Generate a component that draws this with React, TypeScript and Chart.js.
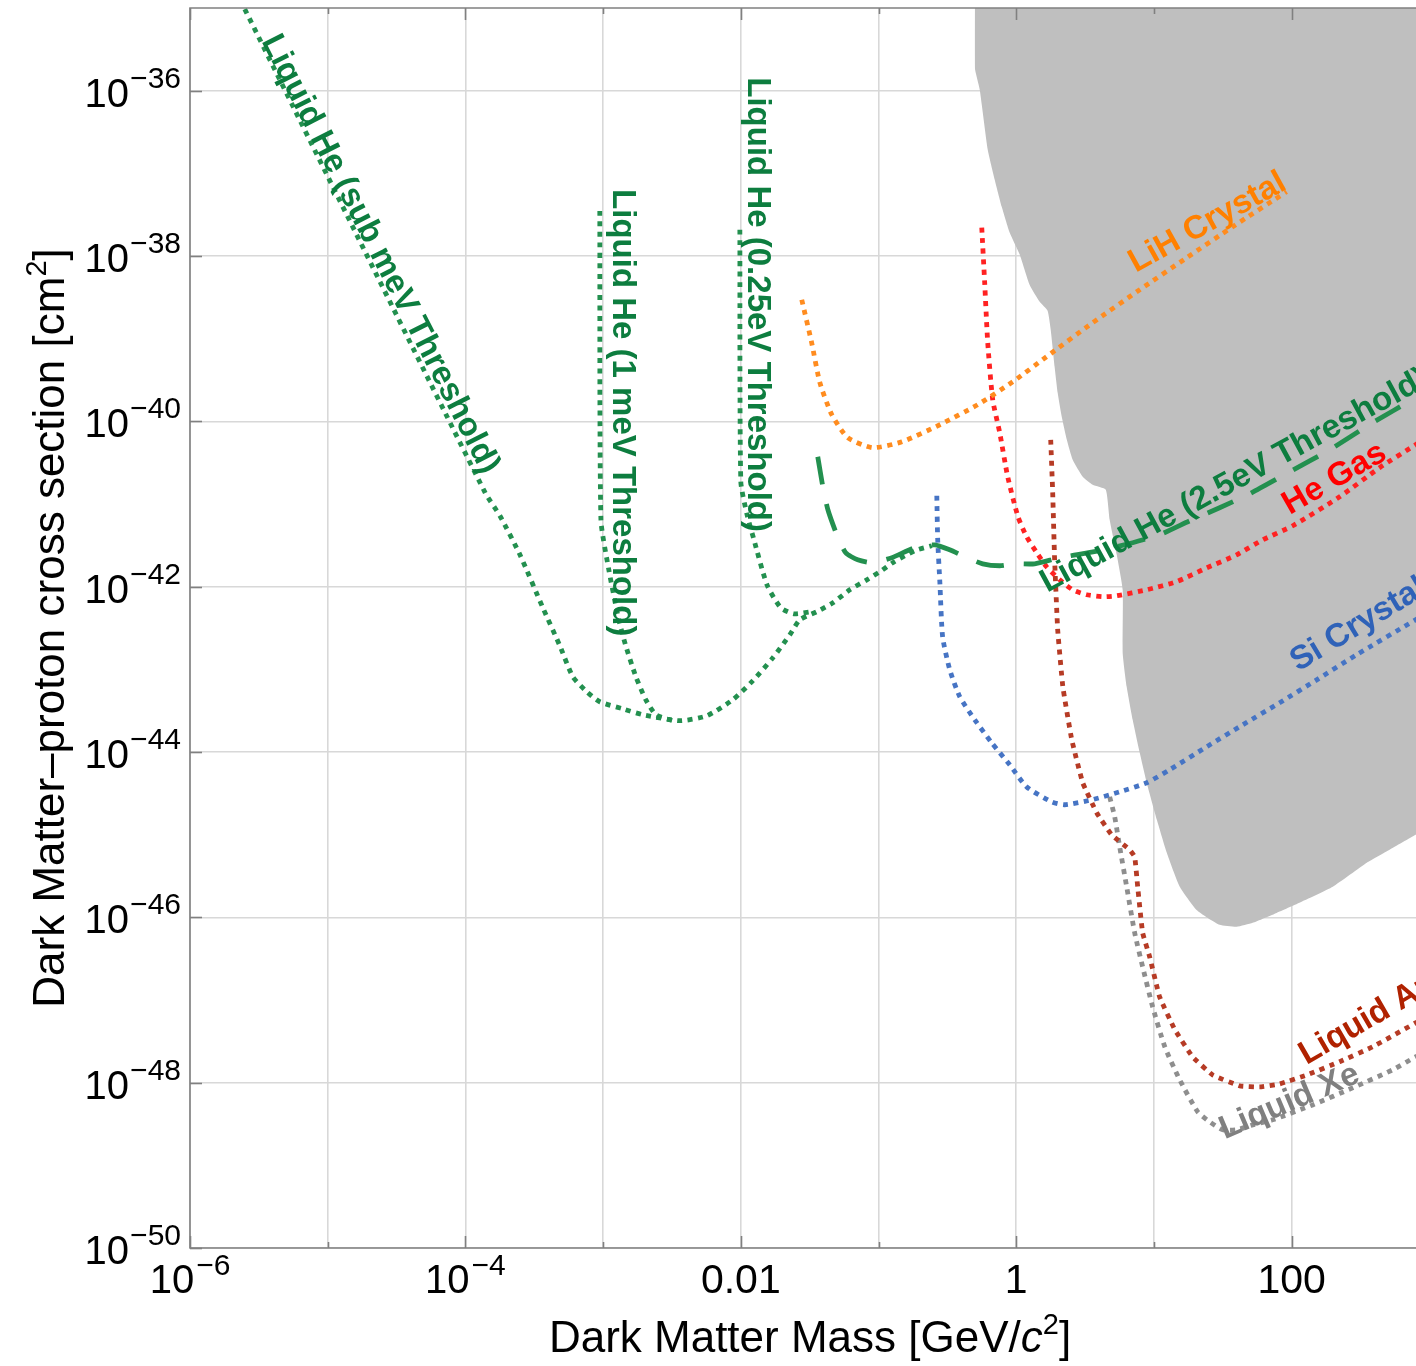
import React, { useEffect, useRef } from 'react';
import { Chart, registerables } from 'chart.js';

Chart.register(...registerables);

type Pair = [number, number];

// ---------- axis ticks ----------
const xGridValues = [1e-6, 1e-5, 1e-4, 1e-3, 1e-2, 1e-1, 1, 10, 100];
const xLabelValues = [1e-6, 1e-4, 1e-2, 1, 100];
const xLabelText: [string, string][] = [
  ['10', '\u22126'],
  ['10', '\u22124'],
  ['0.01', ''],
  ['1', ''],
  ['100', ''],
];
const yLabelValues = [1e-50, 1e-48, 1e-46, 1e-44, 1e-42, 1e-40, 1e-38, 1e-36];
const yLabelText: [string, string][] = [
  ['10', '\u221250'],
  ['10', '\u221248'],
  ['10', '\u221246'],
  ['10', '\u221244'],
  ['10', '\u221242'],
  ['10', '\u221240'],
  ['10', '\u221238'],
  ['10', '\u221236'],
];

// ---------- series (mass GeV/c^2, cross section cm^2) ----------
const liquidHeSubMeV: Pair[] = [
  [2.31e-6, 1.26e-35], [1.39e-4, 1.37e-41], [1.78e-4, 7.21e-42], [2.49e-4, 2.43e-42],
  [3.65e-4, 5.56e-43], [4.85e-4, 1.93e-43], [6.03e-4, 8.13e-44], [7.62e-4, 5.35e-44],
  [9.46e-4, 4.05e-44], [1.39e-3, 3.33e-44], [1.95e-3, 2.82e-44], [3.61e-3, 2.39e-44],
  [5.66e-3, 2.74e-44], [8.75e-3, 4.29e-44], [1.22e-2, 7.26e-44], [1.71e-2, 1.38e-43],
  [2.27e-2, 2.62e-43], [2.68e-2, 3.97e-43], [3.56e-2, 4.97e-43], [4.66e-2, 6.38e-43],
  [6.18e-2, 9.16e-43], [8.22e-2, 1.21e-42], [0.102, 1.51e-42], [0.127, 1.95e-42],
  [0.183, 2.72e-42], [0.244, 3.13e-42],
];
const liquidHe1meV: Pair[] = [
  [9.46e-4, 3.5e-38], [9.64e-4, 6.44e-42], [1.10e-3, 1.60e-42], [1.30e-3, 3.97e-43],
  [1.46e-3, 1.93e-43], [1.73e-3, 8.13e-44], [2.04e-3, 4.29e-44], [2.42e-3, 2.82e-44],
  [3.21e-3, 2.39e-44],
];
const liquidHe025eV: Pair[] = [
  [9.84e-3, 2.08e-38], [1.00e-2, 1.86e-41], [1.11e-2, 7.41e-42], [1.24e-2, 3.80e-42],
  [1.55e-2, 1.05e-42], [1.95e-2, 5.56e-43], [2.43e-2, 4.70e-43], [3.22e-2, 4.97e-43],
];
const liquidHe25eV: Pair[] = [
  [3.62e-2, 3.73e-41], [3.94e-2, 1.62e-41], [4.29e-2, 8.51e-42], [4.98e-2, 4.25e-42],
  [5.78e-2, 2.57e-42], [7.06e-2, 2.11e-42], [8.93e-2, 1.95e-42], [0.125, 2.24e-42],
  [0.183, 2.96e-42], [0.256, 3.21e-42], [0.329, 2.79e-42], [0.423, 2.30e-42],
  [0.571, 1.89e-42], [0.759, 1.79e-42], [0.975, 1.89e-42], [1.36, 1.89e-42],
  [2.07, 2.24e-42], [4.04, 2.72e-42], [7.01, 3.40e-42], [11.0, 4.25e-42],
  [18.2, 6.27e-42], [30.0, 9.02e-42], [49.5, 1.33e-41], [96.6, 2.45e-41],
  [189, 4.53e-41], [387, 9.62e-41], [794, 1.93e-40], [1656, 4.21e-40],
];
const lihCrystal: Pair[] = [
  [2.77e-2, 2.96e-39], [3.27e-2, 8.93e-40], [3.75e-2, 2.93e-40], [4.58e-2, 1.20e-40],
  [5.98e-2, 6.34e-41], [9.08e-2, 4.80e-41], [0.148, 5.66e-41], [0.279, 9.10e-41],
  [0.525, 1.59e-40], [0.944, 3.01e-40], [1.66, 6.05e-40], [3.59, 1.56e-39],
  [7.89, 3.91e-39], [17.3, 9.53e-39], [37.3, 2.26e-38], [92.0, 6.00e-38],
];
const heGas: Pair[] = [
  [0.562, 2.20e-38], [0.590, 4.75e-39], [0.621, 8.93e-40], [0.675, 1.82e-40],
  [0.759, 7.28e-41], [0.867, 2.14e-41], [1.03, 7.01e-42], [1.19, 4.02e-42],
  [1.41, 2.57e-42], [1.66, 1.74e-42], [2.07, 1.21e-42], [2.57, 9.16e-43],
  [3.25, 7.98e-43], [4.25, 7.55e-43], [5.37, 7.76e-43], [8.85, 9.16e-43],
  [14.6, 1.15e-42], [24.2, 1.69e-42], [39.9, 2.43e-42], [61.7, 3.69e-42],
  [102, 5.46e-42], [223, 1.22e-41], [435, 2.75e-41], [794, 5.21e-41], [1403, 9.89e-41],
];
const siCrystal: Pair[] = [
  [0.265, 1.26e-41], [0.269, 3.69e-42], [0.279, 1.11e-42], [0.292, 2.48e-43],
  [0.329, 9.89e-44], [0.389, 4.66e-44], [0.500, 2.45e-44], [0.664, 1.29e-44],
  [0.897, 7.00e-45], [1.19, 3.79e-45], [1.81, 2.49e-45], [2.25, 2.30e-45],
  [3.53, 2.64e-45], [5.64, 3.30e-45], [8.85, 4.24e-45], [13.0, 6.10e-45],
  [24.2, 1.16e-44], [44.1, 2.13e-44], [81.8, 3.94e-44], [152, 7.46e-44],
  [296, 1.50e-43], [794, 3.97e-43], [1403, 6.93e-43],
];
const liquidAr: Pair[] = [
  [1.78, 5.98e-41], [1.84, 1.37e-41], [1.90, 2.11e-42], [2.00, 3.01e-43],
  [2.18, 6.15e-44], [2.53, 1.41e-44], [3.04, 4.24e-45], [3.84, 1.84e-45],
  [4.93, 9.95e-46], [6.67, 6.56e-46], [7.25, 5.40e-46], [7.62, 2.34e-46],
  [8.28, 6.49e-47], [9.31, 3.33e-47], [11.0, 1.09e-47], [14.2, 4.36e-48],
  [19.1, 2.05e-48], [26.7, 1.24e-48], [42.0, 9.14e-49], [58.6, 8.89e-49],
  [81.8, 9.66e-49], [129, 1.24e-48], [223, 1.79e-48], [387, 2.71e-48],
  [794, 5.28e-48], [1403, 9.23e-48],
];
const liquidXe: Pair[] = [
  [4.77, 2.87e-45], [5.19, 1.64e-45], [5.64, 7.13e-46], [6.34, 2.34e-46],
  [7.25, 6.49e-47], [8.28, 2.52e-47], [9.79, 8.26e-48], [12.0, 2.71e-48],
  [15.4, 1.08e-48], [20.8, 4.44e-49], [25.4, 3.36e-49], [31.6, 2.69e-49],
  [39.9, 2.69e-49], [52.1, 3.08e-49], [72.8, 3.55e-49], [142, 5.38e-49],
  [277, 8.65e-49], [541, 1.43e-48], [794, 2.05e-48], [1403, 3.30e-48],
];
const excludedRegion: Pair[] = [
  [0.500, 1.3e-35], [0.500, 1.90e-36], [0.543, 1.03e-36], [0.621, 1.93e-37],
  [0.698, 8.37e-38], [0.785, 3.94e-38], [0.897, 1.91e-38], [1.06, 1.04e-38],
  [1.25, 4.50e-39], [1.48, 2.80e-39], [1.69, 2.18e-39], [1.78, 1.28e-39],
  [1.90, 4.58e-40], [2.00, 2.22e-40], [2.14, 1.14e-40], [2.33, 5.98e-41],
  [2.57, 3.43e-41], [3.04, 2.14e-41], [3.59, 1.71e-41], [4.47, 1.49e-41],
  [4.77, 6.44e-42], [5.37, 2.43e-42], [5.93, 9.16e-43], [5.93, 1.58e-43],
  [6.34, 6.15e-44], [7.01, 2.45e-44], [7.89, 9.77e-45], [9.02, 3.79e-45],
  [10.5, 1.51e-45], [12.4, 6.03e-46], [15.4, 2.34e-46], [20.4, 1.23e-46],
  [30.0, 8.11e-47], [39.9, 7.67e-47], [52.1, 8.57e-47], [77.8, 1.13e-46],
  [114, 1.50e-46], [199, 2.34e-46], [351, 4.56e-46], [514, 6.56e-46],
  [794, 9.95e-46], [1403, 1.74e-45],
];

// ---------- colours ----------
const GREEN_LINE = '#23904f';
const GREEN_TEXT = '#0d7d3f';
const ORANGE_LINE = '#ff8c1f';
const ORANGE_TEXT = '#ff8000';
const RED_LINE = '#ff2222';
const RED_TEXT = '#ff0000';
const BLUE_LINE = '#4674c4';
const BLUE_TEXT = '#2f62b8';
const BROWN_LINE = '#b63b25';
const BROWN_TEXT = '#b02200';
const GRAY_LINE = '#8e8e8e';
const GRAY_TEXT = '#808080';

// ---------- curve labels (anchor in data coords) ----------
const labelTexts = [
  'Liquid He (sub meV Threshold)',
  'Liquid He (1 meV Threshold)',
  'Liquid He (0.25eV Threshold)',
  'LiH Crystal',
  'Liquid He (2.5eV Threshold)',
  'He Gas',
  'Si Crystal',
  'Liquid Ar',
  'Liquid Xe',
];
const labelX = [2.4e-5, 1.37e-3, 1.31e-2, 24.5, 38.5, 205, 306, 339, 96.6];
const labelY = [1.05e-38, 1.27e-40, 2.58e-39, 2.53e-38, 1.91e-41, 2.02e-41, 3.46e-43, 5.6e-48, 5.86e-49];
const labelAngle = [63, 90, 90, -29, -28.5, -30, -31, -30, -23];
const labelColor = [GREEN_TEXT, GREEN_TEXT, GREEN_TEXT, ORANGE_TEXT, GREEN_TEXT, RED_TEXT, BLUE_TEXT, BROWN_TEXT, GRAY_TEXT];

const FONT_FAMILY = '"Liberation Sans", Arial, Helvetica, sans-serif';
const GRID = '#d8d8d8';
const FRAME = '#808080';

const toPoints = (arr: Pair[]) => arr.map(([x, y]) => ({ x, y }));

const DOT = [5, 5.5];
const DASH = [28, 20];

function curve(data: Pair[], color: string, dash: number[], tension = 0.2) {
  return {
    data: toPoints(data),
    showLine: true,
    borderColor: color,
    borderWidth: 4.8,
    borderDash: dash,
    borderCapStyle: 'butt' as const,
    pointRadius: 0,
    pointHoverRadius: 0,
    tension,
    fill: false,
    order: 1,
  };
}

type Part = { t: string; font: string; dy?: number };

function drawParts(ctx: CanvasRenderingContext2D, parts: Part[], x: number, y: number) {
  let total = 0;
  for (const p of parts) {
    ctx.font = p.font;
    total += ctx.measureText(p.t).width;
  }
  let cx = x - total / 2;
  ctx.textAlign = 'left';
  ctx.textBaseline = 'alphabetic';
  for (const p of parts) {
    ctx.font = p.font;
    ctx.fillText(p.t, cx, y + (p.dy || 0));
    cx += ctx.measureText(p.t).width;
  }
}

const overlayPlugin = {
  id: 'overlay',
  afterDatasetsDraw(chart: any) {
    const ctx: CanvasRenderingContext2D = chart.ctx;
    const xs = chart.scales.x;
    const ys = chart.scales.y;
    ctx.save();
    ctx.font = `bold 33px ${FONT_FAMILY}`;
    ctx.textAlign = 'center';
    ctx.textBaseline = 'middle';
    labelTexts.forEach((t, i) => {
      const px = xs.getPixelForValue(labelX[i]);
      const py = ys.getPixelForValue(labelY[i]);
      ctx.save();
      ctx.translate(px, py);
      ctx.rotate((labelAngle[i] * Math.PI) / 180);
      ctx.fillStyle = labelColor[i];
      ctx.fillText(t, 0, 0);
      ctx.restore();
    });
    ctx.restore();
  },
  afterDraw(chart: any) {
    const ctx: CanvasRenderingContext2D = chart.ctx;
    const { left, right, top, bottom } = chart.chartArea;
    const xs = chart.scales.x;
    const ys = chart.scales.y;
    ctx.save();
    // frame
    ctx.strokeStyle = FRAME;
    ctx.lineWidth = 1.6;
    ctx.beginPath();
    ctx.moveTo(right + 2, top);
    ctx.lineTo(left, top);
    ctx.lineTo(left, bottom);
    ctx.lineTo(right + 2, bottom);
    ctx.stroke();
    // x tick marks top & bottom
    xGridValues.forEach((v) => {
      const px = Math.round(xs.getPixelForValue(v)) + 0.5;
      const major = xLabelValues.indexOf(v) >= 0;
      const len = major ? 12 : 6;
      ctx.beginPath();
      ctx.moveTo(px, top);
      ctx.lineTo(px, top + len);
      ctx.moveTo(px, bottom);
      ctx.lineTo(px, bottom - len);
      ctx.stroke();
    });
    // y tick marks left
    yLabelValues.forEach((v) => {
      const py = Math.round(ys.getPixelForValue(v)) + 0.5;
      ctx.beginPath();
      ctx.moveTo(left, py);
      ctx.lineTo(left + 12, py);
      ctx.stroke();
    });

    ctx.fillStyle = '#000';
    const baseFont = `40px ${FONT_FAMILY}`;
    const plainFont = `41px ${FONT_FAMILY}`;
    const expFont = `30px ${FONT_FAMILY}`;
    // y labels
    yLabelValues.forEach((v, i) => {
      const py = ys.getPixelForValue(v);
      const [b, e] = yLabelText[i];
      ctx.textAlign = 'left';
      ctx.textBaseline = 'alphabetic';
      ctx.font = expFont;
      const we = ctx.measureText(e).width;
      const rightEdge = left - 9;
      ctx.fillText(e, rightEdge - we, py - 3);
      ctx.font = baseFont;
      const wb = ctx.measureText(b).width;
      ctx.fillText(b, rightEdge - we - 1 - wb, py + 16);
    });
    // x labels
    xLabelValues.forEach((v, i) => {
      const px = xs.getPixelForValue(v);
      const [b, e] = xLabelText[i];
      ctx.textAlign = 'left';
      ctx.textBaseline = 'alphabetic';
      ctx.font = expFont;
      const we = e ? ctx.measureText(e).width : 0;
      ctx.font = e ? baseFont : plainFont;
      const wb = ctx.measureText(b).width;
      const start = px - (wb + we + (e ? 2 : 0)) / 2;
      ctx.fillText(b, start, bottom + 45);
      if (e) {
        ctx.font = expFont;
        ctx.fillText(e, start + wb + 2, bottom + 27);
      }
    });

    // axis titles
    const tFont = `44px ${FONT_FAMILY}`;
    const tItalic = `italic 44px ${FONT_FAMILY}`;
    const supFont = `29px ${FONT_FAMILY}`;
    drawParts(
      ctx,
      [
        { t: 'Dark Matter Mass [GeV/', font: tFont },
        { t: 'c', font: tItalic },
        { t: '2', font: supFont, dy: -18 },
        { t: ']', font: tFont },
      ],
      left + 620,
      bottom + 104,
    );
    ctx.save();
    ctx.translate(64, top + 620);
    ctx.rotate(-Math.PI / 2);
    drawParts(
      ctx,
      [
        { t: 'Dark Matter\u2013proton cross section [cm', font: tFont },
        { t: '2', font: supFont, dy: -18 },
        { t: ']', font: tFont },
      ],
      0,
      0,
    );
    ctx.restore();
    ctx.restore();
  },
};

export default function App() {
  const ref = useRef<HTMLCanvasElement>(null);
  useEffect(() => {
    const canvas = ref.current;
    if (!canvas) return;
    const chart = new Chart(canvas, {
      type: 'scatter',
      data: {
        datasets: [
          curve(liquidHeSubMeV, GREEN_LINE, DOT),
          curve(liquidHe1meV, GREEN_LINE, DOT),
          curve(liquidHe025eV, GREEN_LINE, DOT),
          curve(liquidHe25eV, GREEN_LINE, DASH),
          curve(lihCrystal, ORANGE_LINE, DOT),
          curve(heGas, RED_LINE, DOT),
          curve(siCrystal, BLUE_LINE, DOT),
          curve(liquidAr, BROWN_LINE, DOT, 0.1),
          curve(liquidXe, GRAY_LINE, DOT),
          {
            data: toPoints(excludedRegion),
            showLine: true,
            borderWidth: 0,
            borderColor: 'rgba(0,0,0,0)',
            backgroundColor: '#bfbfbf',
            fill: 'end',
            pointRadius: 0,
            pointHoverRadius: 0,
            tension: 0.15,
            order: 10,
          },
        ] as any,
      },
      options: {
        responsive: false,
        animation: false,
        devicePixelRatio: 1,
        layout: { padding: { left: 190, top: 8, right: 0, bottom: 118 } },
        plugins: {
          legend: { display: false },
          tooltip: { enabled: false },
        },
        events: [],
        scales: {
          x: {
            type: 'logarithmic',
            min: 1e-6,
            max: 800,
            bounds: 'data',
            ticks: { display: false },
            title: { display: false },
            border: { display: false },
            grid: { color: GRID, lineWidth: 1.6, drawTicks: false },
            afterBuildTicks: (s: any) => {
              s.ticks = xGridValues.map((value) => ({ value }));
            },
          },
          y: {
            type: 'logarithmic',
            min: 1e-50,
            max: 1e-35,
            bounds: 'data',
            ticks: { display: false },
            title: { display: false },
            border: { display: false },
            grid: { color: GRID, lineWidth: 1.6, drawTicks: false },
            afterBuildTicks: (s: any) => {
              s.ticks = yLabelValues.map((value) => ({ value }));
            },
          },
        },
      } as any,
      plugins: [overlayPlugin],
    });
    return () => chart.destroy();
  }, []);
  return (
    <div style={{ position: 'absolute', left: 0, top: 0, width: 1416, height: 1366, background: '#fff' }}>
      <canvas ref={ref} width={1416} height={1366} style={{ display: 'block' }} />
    </div>
  );
}
